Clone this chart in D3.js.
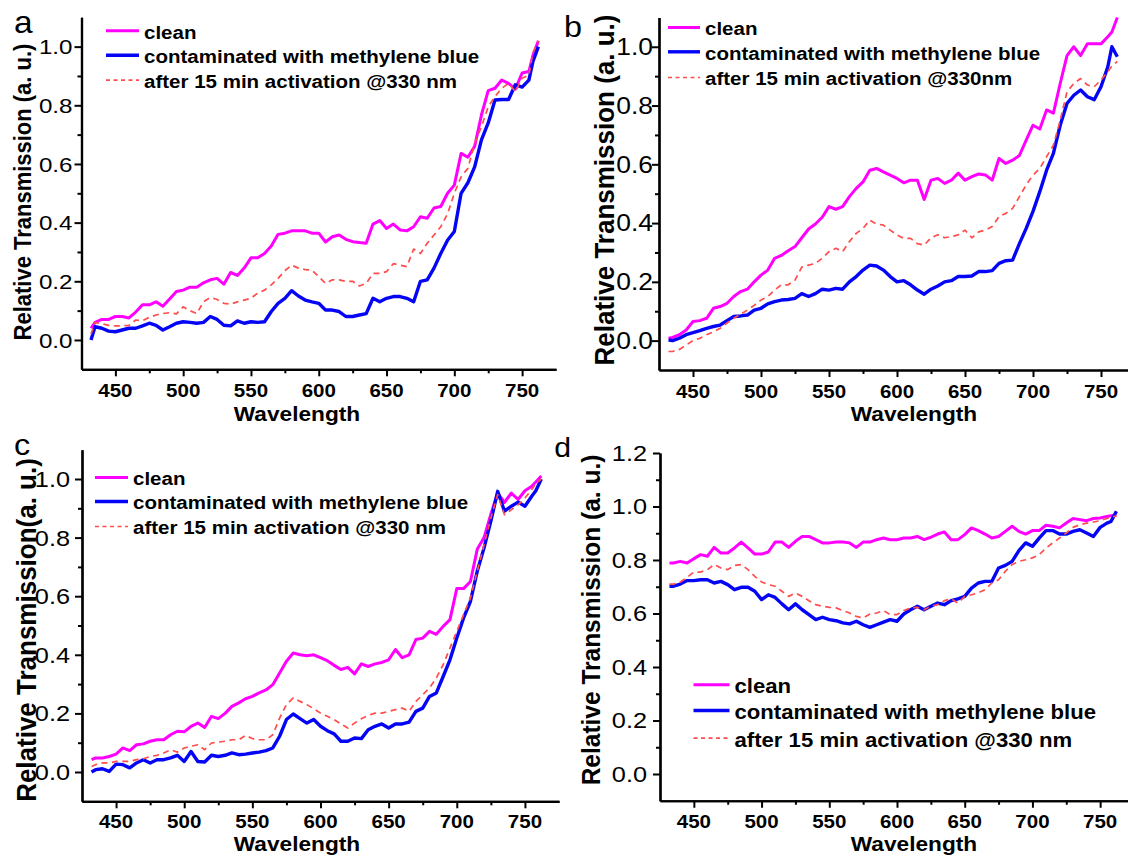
<!DOCTYPE html>
<html>
<head>
<meta charset="utf-8">
<script src="https://cdn.jsdelivr.net/npm/d3@7"></script>
<style>
  body { margin: 0; background: #fff; }
  svg { display: block; font-family: "Liberation Sans", Arial, sans-serif; }
</style>
</head>
<body>
<svg id="chart" width="1128" height="855"></svg>
<script>
// Wavelength grid shared by every curve (nm)
const wavelengths = [
  432, 435, 440, 445, 450, 455, 460, 465, 470, 475,
  480, 485, 490, 495, 500, 505, 510, 515, 520, 525,
  530, 535, 540, 545, 550, 555, 560, 565, 570, 575,
  580, 585, 590, 595, 600, 605, 610, 615, 620, 625,
  630, 635, 640, 645, 650, 655, 660, 665, 670, 675,
  680, 685, 690, 695, 700, 705, 710, 715, 720, 725,
  730, 735, 740, 745, 750, 755, 758, 762
];

// Panel a
const aClean = [
  0.04, 0.06, 0.07, 0.07, 0.08, 0.08, 0.075, 0.095, 0.12, 0.12,
  0.13, 0.115, 0.14, 0.165, 0.17, 0.18, 0.18, 0.195, 0.205, 0.21,
  0.19, 0.23, 0.22, 0.245, 0.28, 0.28, 0.295, 0.32, 0.36, 0.364,
  0.372, 0.372, 0.372, 0.364, 0.364, 0.334, 0.352, 0.358, 0.343, 0.335,
  0.332, 0.33, 0.395, 0.407, 0.38, 0.395, 0.375, 0.372, 0.386, 0.42,
  0.415, 0.45, 0.455, 0.5, 0.528, 0.636, 0.623, 0.66, 0.767, 0.85,
  0.858, 0.886, 0.875, 0.855, 0.91, 0.915, 0.97, 1.02
];
const aContaminated = [
  0.0, 0.045, 0.04, 0.03, 0.028, 0.034, 0.04, 0.04, 0.048, 0.057,
  0.05, 0.034, 0.045, 0.057, 0.062, 0.06, 0.057, 0.06, 0.08, 0.07,
  0.05, 0.048, 0.065, 0.057, 0.062, 0.06, 0.062, 0.097, 0.125, 0.142,
  0.168, 0.15, 0.136, 0.13, 0.125, 0.102, 0.102, 0.097, 0.08, 0.08,
  0.085, 0.09, 0.142, 0.13, 0.142, 0.148, 0.148, 0.142, 0.13, 0.2,
  0.205, 0.245, 0.295, 0.34, 0.37, 0.5, 0.536, 0.59, 0.682, 0.74,
  0.818, 0.82, 0.82, 0.87, 0.862, 0.886, 0.95, 1.0
];
const aActivated = [
  0.02, 0.06, 0.055, 0.05, 0.048, 0.048, 0.05, 0.068, 0.066, 0.077,
  0.085, 0.09, 0.093, 0.089, 0.113, 0.1, 0.09, 0.13, 0.145, 0.138,
  0.125, 0.122, 0.13, 0.136, 0.142, 0.16, 0.17, 0.188, 0.21, 0.236,
  0.255, 0.245, 0.24, 0.238, 0.216, 0.193, 0.205, 0.205, 0.2, 0.2,
  0.184, 0.193, 0.227, 0.227, 0.233, 0.26, 0.255, 0.25, 0.31, 0.295,
  0.33, 0.358, 0.386, 0.43, 0.5, 0.556, 0.585, 0.67, 0.727, 0.795,
  0.83, 0.858, 0.875, 0.847, 0.892, 0.903, 0.98, 1.02
];

// Panel b
const bClean = [
  0.008, 0.011, 0.02, 0.036, 0.065, 0.068, 0.076, 0.11, 0.116, 0.127,
  0.15, 0.167, 0.175, 0.2, 0.223, 0.24, 0.28, 0.29, 0.306, 0.32,
  0.35, 0.38, 0.397, 0.42, 0.456, 0.447, 0.456, 0.49, 0.518, 0.54,
  0.58, 0.586, 0.574, 0.563, 0.552, 0.537, 0.546, 0.546, 0.48, 0.546,
  0.552, 0.535, 0.546, 0.57, 0.546, 0.558, 0.567, 0.564, 0.546, 0.62,
  0.603, 0.614, 0.63, 0.682, 0.733, 0.72, 0.785, 0.774, 0.875, 0.97,
  1.0, 0.97, 1.01, 1.01, 1.01, 1.034, 1.05, 1.1
];
const bContaminated = [
  0.002, 0.0, 0.008, 0.02, 0.027, 0.034, 0.042, 0.048, 0.053, 0.068,
  0.082, 0.084, 0.087, 0.104, 0.11, 0.125, 0.133, 0.138, 0.14, 0.144,
  0.16, 0.15, 0.16, 0.175, 0.172, 0.178, 0.175, 0.2, 0.218, 0.24,
  0.257, 0.254, 0.24, 0.218, 0.2, 0.204, 0.19, 0.172, 0.158, 0.175,
  0.186, 0.2, 0.204, 0.218, 0.218, 0.22, 0.235, 0.235, 0.238, 0.263,
  0.272, 0.274, 0.33, 0.382, 0.44, 0.507, 0.58, 0.637, 0.733, 0.807,
  0.835, 0.853, 0.83, 0.82, 0.864, 0.932, 1.0, 0.966
];
const bActivated = [
  -0.037, -0.037, -0.03, -0.015, 0.0, 0.008, 0.02, 0.03, 0.042, 0.06,
  0.076, 0.09, 0.104, 0.12, 0.138, 0.15, 0.172, 0.19, 0.19, 0.206,
  0.25, 0.257, 0.263, 0.28, 0.303, 0.314, 0.303, 0.337, 0.365, 0.382,
  0.41, 0.397, 0.393, 0.376, 0.36, 0.348, 0.348, 0.33, 0.325, 0.35,
  0.36, 0.35, 0.354, 0.36, 0.376, 0.35, 0.37, 0.376, 0.388, 0.422,
  0.433, 0.45, 0.49, 0.53, 0.563, 0.586, 0.626, 0.665, 0.75, 0.847,
  0.875, 0.892, 0.87, 0.864, 0.887, 0.915, 0.935, 0.95
];

// Panel c
const cClean = [
  0.042, 0.048, 0.048, 0.053, 0.061, 0.082, 0.073, 0.093, 0.096, 0.105,
  0.11, 0.11, 0.127, 0.139, 0.137, 0.156, 0.167, 0.152, 0.19, 0.182,
  0.2, 0.224, 0.236, 0.25, 0.258, 0.27, 0.28, 0.298, 0.338, 0.378,
  0.406, 0.4, 0.397, 0.4, 0.39, 0.38, 0.364, 0.35, 0.357, 0.335,
  0.369, 0.36, 0.369, 0.374, 0.383, 0.418, 0.39, 0.4, 0.452, 0.457,
  0.48, 0.47, 0.497, 0.52, 0.626, 0.626, 0.65, 0.76, 0.8, 0.88,
  0.952, 0.92, 0.952, 0.93, 0.96, 0.975, 0.99, 1.01
];
const cContaminated = [
  0.0, 0.008, 0.011, 0.002, 0.027, 0.025, 0.014, 0.031, 0.042, 0.031,
  0.042, 0.042, 0.048, 0.057, 0.036, 0.07, 0.036, 0.034, 0.057, 0.053,
  0.057, 0.065, 0.059, 0.061, 0.065, 0.068, 0.073, 0.082, 0.122, 0.179,
  0.198, 0.182, 0.167, 0.179, 0.156, 0.141, 0.13, 0.105, 0.105, 0.116,
  0.114, 0.144, 0.156, 0.164, 0.15, 0.164, 0.164, 0.17, 0.207, 0.218,
  0.258, 0.27, 0.326, 0.383, 0.457, 0.526, 0.582, 0.685, 0.765, 0.856,
  0.958, 0.89, 0.907, 0.921, 0.907, 0.941, 0.96, 1.0
];
const cActivated = [
  0.019, 0.025, 0.031, 0.031, 0.036, 0.036, 0.036, 0.042, 0.045, 0.053,
  0.057, 0.065, 0.076, 0.068, 0.082, 0.088, 0.093, 0.076, 0.099, 0.102,
  0.105, 0.11, 0.11, 0.125, 0.114, 0.11, 0.11, 0.127, 0.184, 0.23,
  0.253, 0.241, 0.23, 0.216, 0.201, 0.19, 0.179, 0.164, 0.15, 0.167,
  0.182, 0.193, 0.201, 0.201, 0.207, 0.213, 0.218, 0.207, 0.241, 0.264,
  0.287, 0.321, 0.366, 0.423, 0.48, 0.537, 0.594, 0.685, 0.776, 0.867,
  0.947, 0.878, 0.895, 0.912, 0.935, 0.964, 0.985, 1.0
];

// Panel d
const dClean = [
  0.789, 0.789, 0.795, 0.789, 0.805, 0.82, 0.814, 0.847, 0.826, 0.826,
  0.845, 0.867, 0.845, 0.822, 0.822, 0.83, 0.867, 0.867, 0.847, 0.87,
  0.888, 0.888, 0.876, 0.864, 0.864, 0.867, 0.867, 0.864, 0.847, 0.867,
  0.867, 0.876, 0.882, 0.876, 0.876, 0.882, 0.882, 0.888, 0.876, 0.885,
  0.897, 0.905, 0.876, 0.876, 0.895, 0.92, 0.91, 0.897, 0.882, 0.888,
  0.907, 0.926, 0.907, 0.897, 0.91, 0.91, 0.93, 0.926, 0.92, 0.938,
  0.955, 0.951, 0.947, 0.955, 0.957, 0.963, 0.965, 0.967
];
const dContaminated = [
  0.702, 0.702, 0.71, 0.723, 0.723, 0.726, 0.726, 0.714, 0.72, 0.708,
  0.689, 0.698, 0.698, 0.683, 0.652, 0.67, 0.66, 0.636, 0.614, 0.636,
  0.614, 0.596, 0.577, 0.586, 0.577, 0.573, 0.565, 0.561, 0.571, 0.558,
  0.548, 0.558, 0.568, 0.577, 0.571, 0.598, 0.614, 0.627, 0.614, 0.627,
  0.639, 0.633, 0.648, 0.655, 0.664, 0.695, 0.714, 0.72, 0.72, 0.77,
  0.78, 0.795, 0.835, 0.864, 0.851, 0.882, 0.91, 0.91, 0.897, 0.897,
  0.907, 0.913, 0.901, 0.888, 0.922, 0.938, 0.944, 0.982
];
const dActivated = [
  0.71, 0.71, 0.718, 0.735, 0.755, 0.755, 0.764, 0.783, 0.77, 0.764,
  0.78, 0.783, 0.764, 0.739, 0.718, 0.708, 0.702, 0.683, 0.664, 0.677,
  0.664, 0.648, 0.633, 0.627, 0.623, 0.621, 0.611, 0.602, 0.589, 0.583,
  0.598, 0.602, 0.611, 0.596, 0.596, 0.611, 0.621, 0.623, 0.614, 0.627,
  0.633, 0.648, 0.655, 0.639, 0.664, 0.67, 0.677, 0.689, 0.714, 0.726,
  0.758, 0.783, 0.795, 0.801, 0.808, 0.82, 0.845, 0.864, 0.882, 0.901,
  0.922, 0.932, 0.938, 0.942, 0.947, 0.955, 0.96, 0.965
];

// Legend texts (panel b writes "330nm")
const legendLabels = ['clean', 'contaminated with methylene blue', 'after 15 min activation @330 nm'];
const legendLabelsB = ['clean', 'contaminated with methylene blue', 'after 15 min activation @330nm'];

// Tick values
const xTicks = [450, 500, 550, 600, 650, 700, 750];
const xMinorTicks = [475, 525, 575, 625, 675, 725];
const yTicks = [0.0, 0.2, 0.4, 0.6, 0.8, 1.0];
const yMinorTicks = [0.1, 0.3, 0.5, 0.7, 0.9];
const yTicksD = [0.0, 0.2, 0.4, 0.6, 0.8, 1.0, 1.2];
const yMinorTicksD = [0.1, 0.3, 0.5, 0.7, 0.9, 1.1];

// Series styling
const styles = [
  { color: '#ff00ff', width: 3, dash: null, legendDash: null },
  { color: '#0505f5', width: 3.4, dash: null, legendDash: null },
  { color: '#ff4d4d', width: 1.7, dash: '6,4.5', legendDash: '4,3.5' }
];

// Layout of each of the four panels
const panels = [
  { letter: 'a', series: [aClean, aContaminated, aActivated], legend: legendLabels,
    x0: 81.5, x1: 556, y0: 369.3, y1: 17.3, yDomain: [-0.1, 1.1],
    yTicks: yTicks, yMinor: yMinorTicks, yLabelSize: 21, yLabelGap: 9,
    title: 'Relative Transmission (a. u.)', titleX: 31, titleY: 192, titleSize: 22,
    legendX: 106, legendLen: 33, legendY: [32.3, 56.7, 81.7], legendSize: 19,
    xLabelY: 397, xTitleX: 297, xTitleY: 421,
    letterX: 14, letterY: 33, letterSize: 31, letterAnchor: 'start' },
  { letter: 'b', series: [bClean, bContaminated, bActivated], legend: legendLabelsB,
    x0: 659, x1: 1135, y0: 370, y1: 17.4, yDomain: [-0.1, 1.1],
    yTicks: yTicks, yMinor: yMinorTicks, yLabelSize: 23, yLabelGap: 6,
    title: 'Relative Transmission (a. u.)', titleX: 614, titleY: 190, titleSize: 26,
    legendX: 668, legendLen: 32, legendY: [29, 53.3, 79], legendSize: 19,
    xLabelY: 398, xTitleX: 914, xTitleY: 421,
    letterX: 564, letterY: 37, letterSize: 30, letterAnchor: 'start' },
  { letter: 'c', series: [cClean, cContaminated, cActivated], legend: legendLabels,
    x0: 82, x1: 559, y0: 801.3, y1: 449.7, yDomain: [-0.1, 1.1],
    yTicks: yTicks, yMinor: yMinorTicks, yLabelSize: 22, yLabelGap: 12,
    title: 'Relative Transmission(a. u.)', titleX: 36, titleY: 630, titleSize: 26,
    legendX: 95, legendLen: 33, legendY: [479, 503, 528], legendSize: 19,
    xLabelY: 828, xTitleX: 297, xTitleY: 851,
    letterX: 14, letterY: 455, letterSize: 30, letterAnchor: 'start' },
  { letter: 'd', series: [dClean, dContaminated, dActivated], legend: legendLabels,
    x0: 660, x1: 1134, y0: 800.75, y1: 453, yDomain: [-0.1, 1.2],
    yTicks: yTicksD, yMinor: yMinorTicksD, yLabelSize: 22, yLabelGap: 13,
    title: 'Relative Transmission (a. u.)', titleX: 600, titleY: 620, titleSize: 24.5,
    legendX: 693.5, legendLen: 36, legendY: [686.3, 712, 739.7], legendSize: 20.5,
    xLabelY: 828, xTitleX: 914, xTitleY: 851,
    letterX: 571, letterY: 457, letterSize: 28, letterAnchor: 'end' }
];

// The source figure is slightly stretched sideways, so text is too
const stretch = 1.08;

const svg = d3.select('#chart');

function addText(parent, x, y, str, size, weight, anchor, rotated, sx) {
  return parent.append('text')
    .attr('transform', `translate(${x},${y}) scale(${sx || stretch},1)` + (rotated ? ' rotate(-90)' : ''))
    .attr('font-size', size)
    .attr('font-weight', weight)
    .attr('text-anchor', anchor)
    .attr('fill', '#000')
    .text(str);
}

function drawPanel(p) {
  const g = svg.append('g');

  const x = d3.scaleLinear().domain([425, 775]).range([p.x0, p.x1]);
  const y = d3.scaleLinear().domain(p.yDomain).range([p.y0, p.y1]);

  // Minor ticks first, then major ticks with the axis line
  g.append('g')
    .attr('transform', `translate(0,${p.y0})`)
    .call(d3.axisBottom(x).tickValues(xMinorTicks).tickSize(4).tickSizeOuter(0).tickFormat(''));
  g.append('g')
    .attr('transform', `translate(0,${p.y0})`)
    .call(d3.axisBottom(x).tickValues(xTicks).tickSize(7).tickSizeOuter(0).tickFormat(''));
  g.append('g')
    .attr('transform', `translate(${p.x0},0)`)
    .call(d3.axisLeft(y).tickValues(p.yMinor).tickSize(4).tickSizeOuter(0).tickFormat(''));
  g.append('g')
    .attr('transform', `translate(${p.x0},0)`)
    .call(d3.axisLeft(y).tickValues(p.yTicks).tickSize(7).tickSizeOuter(0).tickFormat(''));

  g.selectAll('.domain').attr('stroke', '#000').attr('stroke-width', 2.2);
  g.selectAll('.tick line').attr('stroke', '#000').attr('stroke-width', 2);

  // Tick labels
  xTicks.forEach(v => addText(g, x(v), p.xLabelY, v, 19, 'bold', 'middle'));
  p.yTicks.forEach(v => addText(g, p.x0 - p.yLabelGap, y(v) + p.yLabelSize * 0.36,
    d3.format('.1f')(v), p.yLabelSize, 'normal', 'end', false, 1.15));

  // Axis titles
  addText(g, p.xTitleX, p.xTitleY, 'Wavelength', 21, 'bold', 'middle');
  addText(g, p.titleX, p.titleY, p.title, p.titleSize, 'bold', 'middle', true);

  // Curves
  const line = d3.line()
    .x(d => x(d[0]))
    .y(d => y(d[1]));

  p.series.forEach((values, i) => {
    g.append('path')
      .datum(d3.zip(wavelengths, values))
      .attr('fill', 'none')
      .attr('stroke', styles[i].color)
      .attr('stroke-width', styles[i].width)
      .attr('stroke-linejoin', 'round')
      .attr('stroke-dasharray', styles[i].dash)
      .attr('d', line);
  });

  // Legend
  p.legend.forEach((label, i) => {
    const cy = p.legendY[i];
    g.append('line')
      .attr('x1', p.legendX)
      .attr('x2', p.legendX + p.legendLen)
      .attr('y1', cy - 1.5)
      .attr('y2', cy - 1.5)
      .attr('stroke', styles[i].color)
      .attr('stroke-width', styles[i].width)
      .attr('stroke-dasharray', styles[i].legendDash);
    addText(g, p.legendX + p.legendLen + 5, cy + p.legendSize * 0.34, label, p.legendSize, 'bold', 'start');
  });

  // Panel letter
  addText(g, p.letterX, p.letterY, p.letter, p.letterSize, 'normal', p.letterAnchor);
}

panels.forEach(drawPanel);
</script>
</body>
</html>
